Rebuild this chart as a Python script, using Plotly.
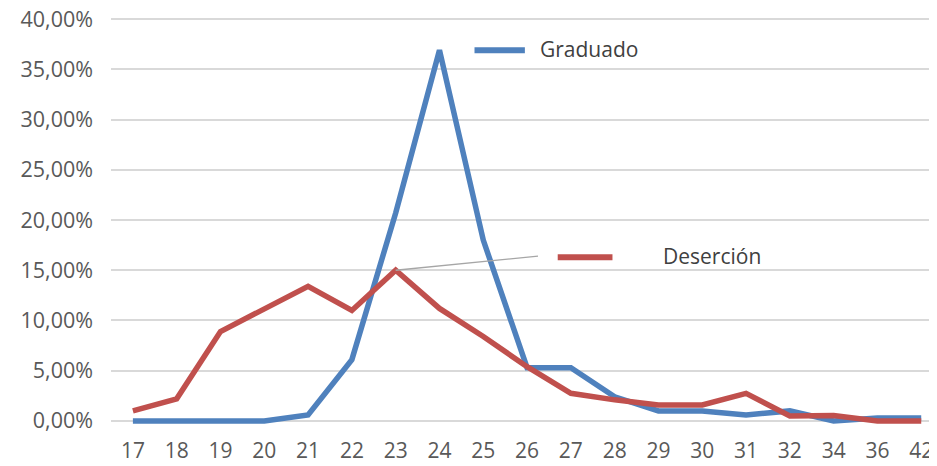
import plotly.graph_objects as go

ages = ["17", "18", "19", "20", "21", "22", "23", "24", "25", "26", "27", "28", "29", "30", "31", "32", "34", "36", "42"]
graduado = [0.0, 0.0, 0.0, 0.0, 0.6, 6.1, 20.7, 36.9, 18.0, 5.3, 5.3, 2.4, 1.0, 1.0, 0.6, 1.0, 0.0, 0.3, 0.3]
desercion = [1.0, 2.2, 8.9, 11.2, 13.4, 11.0, 15.0, 11.2, 8.4, 5.4, 2.75, 2.1, 1.6, 1.6, 2.75, 0.5, 0.55, 0.0, 0.0]
y_ticks = [0, 5, 10, 15, 20, 25, 30, 35, 40]
y_tick_text = ["0,00%", "5,00%", "10,00%", "15,00%", "20,00%", "25,00%", "30,00%", "35,00%", "40,00%"]

BLUE = "#4f81bd"
RED = "#c0504d"
TXT = "#595959"
FONT = "Open Sans"

xi = list(range(len(ages)))

fig = go.Figure()
fig.add_trace(go.Scatter(x=xi, y=graduado, mode="lines", name="Graduado",
                         line=dict(color=BLUE, width=5.5), showlegend=False))
fig.add_trace(go.Scatter(x=xi, y=desercion, mode="lines", name="Deserción",
                         line=dict(color=RED, width=5.5), showlegend=False))

# series-name labels (Excel style data labels)
fig.add_trace(go.Scatter(x=[6, 8.9, 9.25], y=[15.0, 16.3, 16.4], mode="lines",
                         line=dict(color="#a6a6a6", width=1.3), showlegend=False, hoverinfo="skip"))
fig.add_trace(go.Scatter(x=[7.8, 8.95], y=[36.9, 36.9], mode="lines",
                         line=dict(color=BLUE, width=6), showlegend=False, hoverinfo="skip"))
fig.add_trace(go.Scatter(x=[9.7, 10.95], y=[16.3, 16.3], mode="lines",
                         line=dict(color=RED, width=6), showlegend=False, hoverinfo="skip"))
fig.add_annotation(x=9.25, y=37.0, text="Graduado", showarrow=False, xanchor="left",
                   font=dict(family=FONT, size=21, color="#404040"))
fig.add_annotation(x=12.05, y=16.4, text="Deserción", showarrow=False, xanchor="left",
                   font=dict(family=FONT, size=21, color="#404040"))

fig.update_layout(
    width=937, height=466,
    margin=dict(l=103, r=8, t=1, b=43, autoexpand=False),
    paper_bgcolor="white", plot_bgcolor="white",
    font=dict(family=FONT, size=21, color=TXT),
    xaxis=dict(range=[-0.5, 18.36], tickvals=xi, ticktext=ages, showgrid=False,
               zeroline=False, showline=False, ticks="", fixedrange=True, automargin=False,
               ticklabelstandoff=5, ticklabeloverflow="allow",
               tickfont=dict(family=FONT, size=21, color=TXT)),
    yaxis=dict(range=[-1, 41], tickvals=y_ticks, ticktext=y_tick_text, showgrid=True,
               gridcolor="#d9d9d9", gridwidth=2, zeroline=False, showline=False, ticks="",
               automargin=False,
               ticklabelstandoff=17, ticklabeloverflow="allow",
               tickfont=dict(family=FONT, size=21.5, color=TXT)),
)

fig.write_html("out.html")
